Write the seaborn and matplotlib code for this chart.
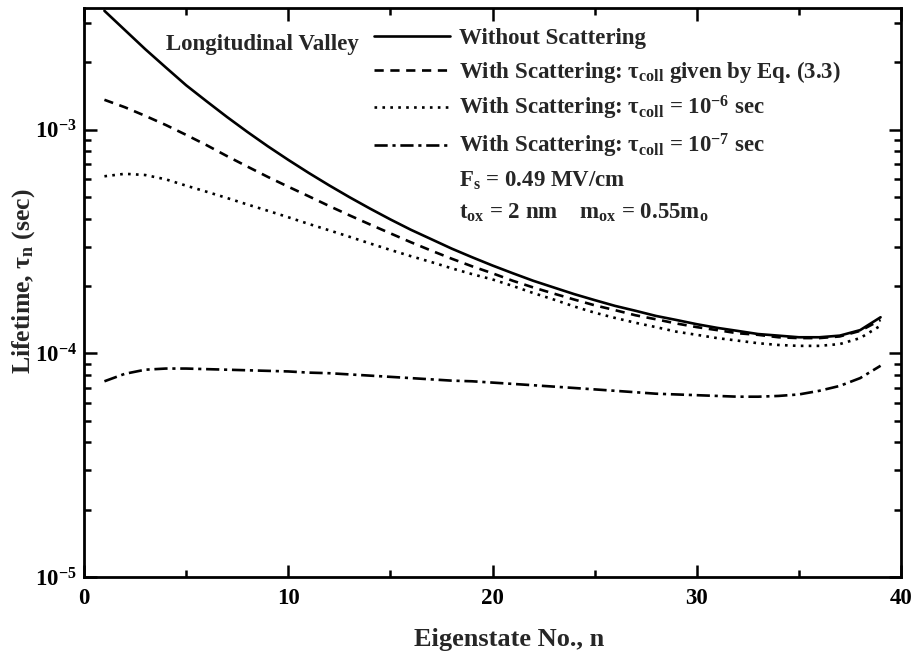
import numpy as np
import pandas as pd
import matplotlib
matplotlib.use('Agg')
import matplotlib.pyplot as plt
import seaborn as sns
from matplotlib.lines import Line2D
from matplotlib.ticker import LogLocator, MultipleLocator, FuncFormatter, NullFormatter

# ---------------- data ----------------
n = list(range(1, 40))

without_scatt = [3.40e-3, 2.79e-3, 2.29e-3, 1.90e-3, 1.58e-3, 1.34e-3, 1.14e-3, 9.77e-4, 8.43e-4, 7.33e-4,
                 6.41e-4, 5.64e-4, 4.99e-4, 4.44e-4, 3.97e-4, 3.57e-4, 3.24e-4, 2.94e-4, 2.69e-4, 2.47e-4,
                 2.28e-4, 2.11e-4, 1.97e-4, 1.84e-4, 1.73e-4, 1.63e-4, 1.55e-4, 1.47e-4, 1.41e-4, 1.35e-4,
                 1.30e-4, 1.26e-4, 1.22e-4, 1.20e-4, 1.18e-4, 1.18e-4, 1.20e-4, 1.27e-4, 1.45e-4]

scatt_eq33 = [1.36e-3, 1.26e-3, 1.153e-3, 1.05e-3, 9.48e-4, 8.53e-4, 7.62e-4, 6.84e-4, 6.15e-4, 5.56e-4,
              5.04e-4, 4.56e-4, 4.14e-4, 3.77e-4, 3.44e-4, 3.14e-4, 2.88e-4, 2.65e-4, 2.45e-4, 2.28e-4,
              2.11e-4, 1.97e-4, 1.85e-4, 1.74e-4, 1.64e-4, 1.56e-4, 1.48e-4, 1.42e-4, 1.36e-4, 1.31e-4,
              1.27e-4, 1.23e-4, 1.21e-4, 1.18e-4, 1.17e-4, 1.17e-4, 1.19e-4, 1.26e-4, 1.41e-4]

scatt_1e6 = [6.19e-4, 6.35e-4, 6.27e-4, 6.00e-4, 5.62e-4, 5.28e-4, 4.95e-4, 4.63e-4, 4.34e-4, 4.06e-4,
             3.79e-4, 3.55e-4, 3.32e-4, 3.10e-4, 2.90e-4, 2.72e-4, 2.56e-4, 2.40e-4, 2.26e-4, 2.14e-4,
             2.00e-4, 1.86e-4, 1.74e-4, 1.62e-4, 1.52e-4, 1.44e-4, 1.37e-4, 1.31e-4, 1.25e-4, 1.21e-4,
             1.17e-4, 1.14e-4, 1.11e-4, 1.09e-4, 1.08e-4, 1.08e-4, 1.10e-4, 1.17e-4, 1.33e-4]

scatt_1e7 = [7.5e-5, 8.1e-5, 8.45e-5, 8.55e-5, 8.55e-5, 8.5e-5, 8.45e-5, 8.4e-5, 8.35e-5, 8.3e-5,
             8.2e-5, 8.15e-5, 8.05e-5, 7.95e-5, 7.85e-5, 7.75e-5, 7.65e-5, 7.55e-5, 7.5e-5, 7.4e-5,
             7.3e-5, 7.2e-5, 7.1e-5, 7.0e-5, 6.9e-5, 6.8e-5, 6.7e-5, 6.6e-5, 6.55e-5, 6.5e-5,
             6.45e-5, 6.4e-5, 6.4e-5, 6.45e-5, 6.55e-5, 6.8e-5, 7.15e-5, 7.75e-5, 8.8e-5]

series_names = ['Without Scattering',
                r'With Scattering: τ$_\mathregular{coll}$ given by Eq. (3.3)',
                r'With Scattering: τ$_\mathregular{coll}$ = 10$^\mathregular{-6}$ sec',
                r'With Scattering: τ$_\mathregular{coll}$ = 10$^\mathregular{-7}$ sec']
extra_lines = [r'F$_\mathregular{s}$ = 0.49 MV/cm',
               r't$_\mathregular{ox}$ = 2 nm    m$_\mathregular{ox}$ = 0.55m$_\mathregular{o}$']
x_ticks = [0, 10, 20, 30, 40]

# ---------------- style ----------------
sns.set_theme(style='ticks')
plt.rcParams['font.family'] = ['Liberation Serif', 'DejaVu Serif']
plt.rcParams['font.weight'] = 'bold'
plt.rcParams['mathtext.fontset'] = 'custom'
plt.rcParams['mathtext.rm'] = 'Liberation Serif:bold'
plt.rcParams['mathtext.it'] = 'Liberation Serif:bold'
plt.rcParams['mathtext.bf'] = 'Liberation Serif:bold'

fig = plt.figure(figsize=(9.18, 6.53), dpi=100)
ax = fig.add_axes([84 / 918, 1 - 577 / 653, (901 - 84) / 918, (577 - 8) / 653])

dash_styles = ['', (3.5, 2.5), (1, 2.0), (5, 1.8, 1.2, 1.8)]
df = pd.concat([pd.DataFrame({'n': n, 'tau': v, 'series': s})
                for v, s in zip([without_scatt, scatt_eq33, scatt_1e6, scatt_1e7], series_names)])
dash_map = dict(zip(series_names, dash_styles))
sns.lineplot(data=df, x='n', y='tau', style='series', dashes=dash_map, color='black',
             linewidth=1.9, legend=False, ax=ax, sort=False)

ax.set_yscale('log')
ax.set_xlim(0, 40)
ax.set_ylim(1e-5, 3.5e-3)
ax.set_xticks(x_ticks)
ax.xaxis.set_minor_locator(MultipleLocator(5))
ax.yaxis.set_major_locator(LogLocator(base=10, numticks=10))
ax.yaxis.set_minor_locator(LogLocator(base=10, subs=np.arange(2, 10), numticks=20))
ax.yaxis.set_minor_formatter(NullFormatter())
ax.yaxis.set_major_formatter(FuncFormatter(lambda v, p: '10$^\\mathregular{%d}$' % int(round(np.log10(v)))))
ax.tick_params(which='both', direction='in', top=True, right=True, width=1.8, colors='black',
               labelsize=16.5)
ax.tick_params(axis='x', pad=8)
ax.tick_params(axis='y', pad=5)
ax.tick_params(which='major', length=9)
ax.tick_params(which='minor', length=5)
for sp in ax.spines.values():
    sp.set_linewidth(2)
    sp.set_color('black')

ax.set_xlabel('Eigenstate No., n', fontsize=19, fontweight='bold')
ax.set_ylabel(r'Lifetime, τ$_\mathregular{n}$ (sec)', fontsize=18.5, fontweight='bold')
ax.xaxis.set_label_coords(0.52, -0.09)
ax.yaxis.set_label_coords(-0.058, 0.52)

ax.text(0.10, 0.935, 'Longitudinal Valley', transform=ax.transAxes, fontsize=16.5,
        fontweight='bold', va='center', ha='left')

handles = [Line2D([], [], color='black', lw=1.9, linestyle='-')]
handles += [Line2D([], [], color='black', lw=1.9, linestyle=(0, d)) for d in dash_styles[1:]]
handles += [Line2D([], [], linestyle='none'), Line2D([], [], linestyle='none')]
leg = ax.legend(handles, series_names + extra_lines, loc='upper left', bbox_to_anchor=(0.355, 0.965),
                frameon=False, fontsize=16.5, handlelength=3.3, handletextpad=0.4, labelspacing=0.42,
                borderpad=0, borderaxespad=0)
for t in leg.get_texts():
    t.set_fontweight('bold')

fig.savefig('out.png', dpi=100)
